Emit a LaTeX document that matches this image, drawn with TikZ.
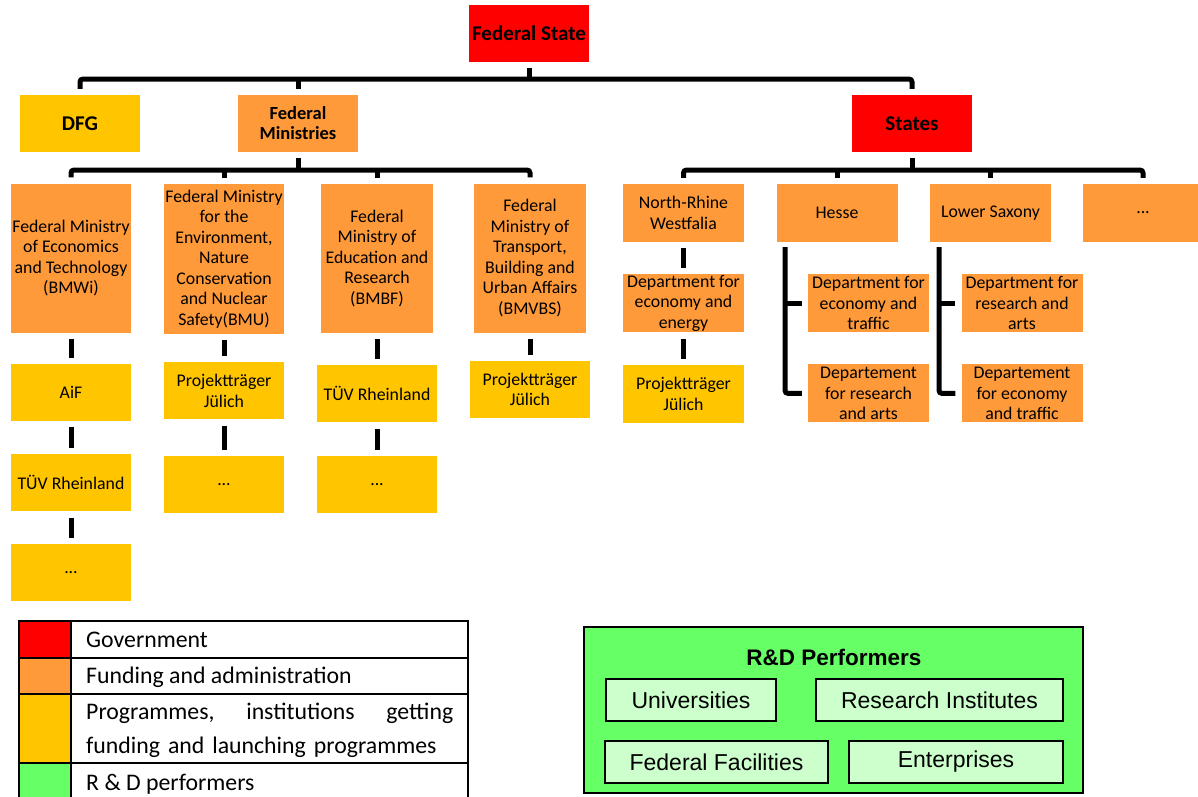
\documentclass[tikz,border=0pt]{standalone}
\usepackage{fontspec}
\setmainfont{Carlito}
\newfontfamily\arialfont{Liberation Sans}
\usetikzlibrary{positioning}
\definecolor{govred}{HTML}{FF0000}
\definecolor{fundorange}{HTML}{FF9A3A}
\definecolor{progyellow}{HTML}{FFC600}
\definecolor{perfgreen}{HTML}{66FF66}
\definecolor{perflight}{HTML}{CCFFCC}

\begin{document}
\begin{tikzpicture}[x=1pt,y=-1pt,% pixel coordinates, y runs downwards
			every node/.style={
				align=center,		% so that "\\" breaks the line
				inner sep=0pt,
				font=\fontsize{17.8}{20.5}\selectfont
			},
			box/.style={rectangle,minimum width=120pt,minimum height=57pt},
			govbox/.style={box,fill=govred,font=\fontsize{21}{23}\selectfont\bfseries},
			fundbox/.style={box,fill=fundorange},
			progbox/.style={box,fill=progyellow},
			minbox/.style={fundbox,minimum height=149pt},
			deptbox/.style={fundbox,minimum width=121pt,minimum height=58pt},
			conn/.style={draw,line width=5pt,rounded corners=3pt},
			perfbox/.style={rectangle,draw=black,line width=1.2pt,fill=perflight,
				minimum height=42pt,font=\arialfont\fontsize{23}{25}\selectfont},
			legline/.style={draw=black,line width=1.5pt}
		]
		\useasboundingbox (0,0) rectangle (1198,796);

		% top levels
		\node[govbox](FS) at (529,33.5){Federal State};
		\node[progbox,font=\fontsize{21}{23}\selectfont\bfseries](DFG) at (80,123.5){DFG};
		\node[fundbox,font=\fontsize{18.5}{20}\selectfont\bfseries](FM) at (298,123.5){Federal\\Ministries};
		\node[govbox](ST) at (912,123.5){States};

		% federal ministries
		\node[minbox](M1) at (71,258){Federal Ministry\\of Economics\\and Technology\\(BMWi)};
		\node[minbox,minimum height=150pt](M2) at (224,259){Federal Ministry\\for the\\Environment,\\Nature\\Conservation\\and Nuclear\\Safety(BMU)};
		\node[minbox,minimum width=112pt](M3) at (377,258.5){Federal\\Ministry of\\Education and\\Research\\(BMBF)};
		\node[minbox,minimum width=112pt](M4) at (530,258){Federal\\Ministry of\\Transport,\\Building and\\Urban Affairs\\(BMVBS)};

		\node[progbox](A1)[below=31pt of M1]{AiF};
		\node[progbox](A2)[below=33pt of A1]{TÜV Rheinland};
		\node[progbox](A3)[below=32pt of A2]{...};
		\node[progbox](B1)[below=28pt of M2]{Projektträger\\Jülich};
		\node[progbox](B2)[below=36pt of B1]{...};
		\node[progbox](C1)[below=32pt of M3]{TÜV Rheinland};
		\node[progbox](C2)[below=33pt of C1]{...};
		\node[progbox](D1)[below=28pt of M4]{Projektträger\\Jülich};

		% states
		\node[deptbox](S1) at (683.5,213){North-Rhine\\Westfalia};
		\node[deptbox](S2) at (837,213){Hesse};
		\node[deptbox](S3) at (990.5,213){Lower Saxony};
		\node[deptbox](S4) at (1143,213){...};

		\node[deptbox](N1)[below=32pt of S1]{Department for\\economy and\\energy};
		\node[progbox,minimum width=121pt,minimum height=58pt](N2)[below=32pt of N1]{Projektträger\\Jülich};
		\node[deptbox](H1) at (868.5,303){Department for\\economy and\\traffic};
		\node[deptbox](H2)[below=32pt of H1]{Departement\\for research\\and arts};
		\node[deptbox](L1) at (1022,303){Department for\\research and\\arts};
		\node[deptbox](L2)[below=32pt of L1]{Departement\\for economy\\and traffic};

		% connectors
		\coordinate (bar1) at (529,79);
		\coordinate (bar2) at (298,170);
		\coordinate (bar3) at (912,170);
		\draw[conn] ([yshift=-6pt]FS.south) -- (FS.south |- bar1);
		\draw[conn] ([yshift=6pt]DFG.north) |- (bar1) -| ([yshift=6pt]ST.north);
		\draw[conn] ([yshift=6pt]FM.north) -- (FM.north |- bar1);

		\draw[conn] ([yshift=-6pt]FM.south) -- (FM.south |- bar2);
		\draw[conn] ([yshift=6pt]M1.north) |- (bar2) -| ([yshift=6pt]M4.north);
		\draw[conn] ([yshift=6pt]M2.north) -- (M2.north |- bar2);
		\draw[conn] ([yshift=6pt]M3.north) -- (M3.north |- bar2);

		\draw[conn] ([yshift=-6pt]ST.south) -- (ST.south |- bar3);
		\draw[conn] ([yshift=6pt]S1.north) |- (bar3) -| ([yshift=6pt]S4.north);
		\draw[conn] ([yshift=6pt]S2.north) -- (S2.north |- bar3);
		\draw[conn] ([yshift=6pt]S3.north) -- (S3.north |- bar3);

		\foreach \up/\down in {M1/A1,A1/A2,A2/A3,M2/B1,B1/B2,M3/C1,C1/C2,M4/D1,S1/N1,N1/N2}
			\draw[conn] ([yshift=-6pt]\up.south) -- ([yshift=6pt]\down.north);

		\coordinate (hb) at ([xshift=-52pt,yshift=-5pt]S2.south);
		\coordinate (lb) at ([xshift=-51.5pt,yshift=-5pt]S3.south);
		\draw[conn] (hb) |- ([xshift=-6pt]H2.west);
		\draw[conn] (hb |- H1.west) -- ([xshift=-6pt]H1.west);
		\draw[conn] (lb) |- ([xshift=-6pt]L2.west);
		\draw[conn] (lb |- L1.west) -- ([xshift=-6pt]L1.west);

		% legend
		\fill[govred] (19,621) rectangle (71,658);
		\fill[fundorange] (19,658) rectangle (71,694);
		\fill[progyellow] (19,694) rectangle (71,763);
		\fill[perfgreen] (19,763) rectangle (71,800);
		\draw[legline] (19,621) rectangle (468,800);
		\draw[legline] (71,621) -- (71,800);
		\foreach \y in {658,694,763}
			\draw[legline] (19,\y) -- (468,\y);
		\begin{scope}[every node/.append style={anchor=west,align=left,font=\fontsize{23.8}{34}\selectfont}]
			\node(G1) at (86,640){Government};
			\node(G2) at (86,677){Funding and administration};
			\node[text width=367pt](G3) at (86,730){\hbox to 367pt{Programmes,\hfill institutions\hfill getting}\\funding and launching programmes};
			\node(G4) at (86,784){R \& D performers};
		\end{scope}

		% R&D performers
		\node[rectangle,draw=black,line width=1.5pt,fill=perfgreen,minimum width=499pt,minimum height=166pt](RD) at (833.5,710){};
		\node[font=\arialfont\fontsize{22.5}{24}\selectfont\bfseries](RDT) at (834,657){R\&D Performers};
		\node[perfbox,minimum width=170pt](Uni) at (691,700){Universities};
		\node[perfbox,minimum width=247pt](RI) at (939.5,700){Research Institutes};
		\node[perfbox,minimum width=223pt](FF) at (716.5,762){Federal Facilities};
		\node[perfbox,minimum width=214pt](Ent) at (956,762){Enterprises};
	\end{tikzpicture}
\end{document}
